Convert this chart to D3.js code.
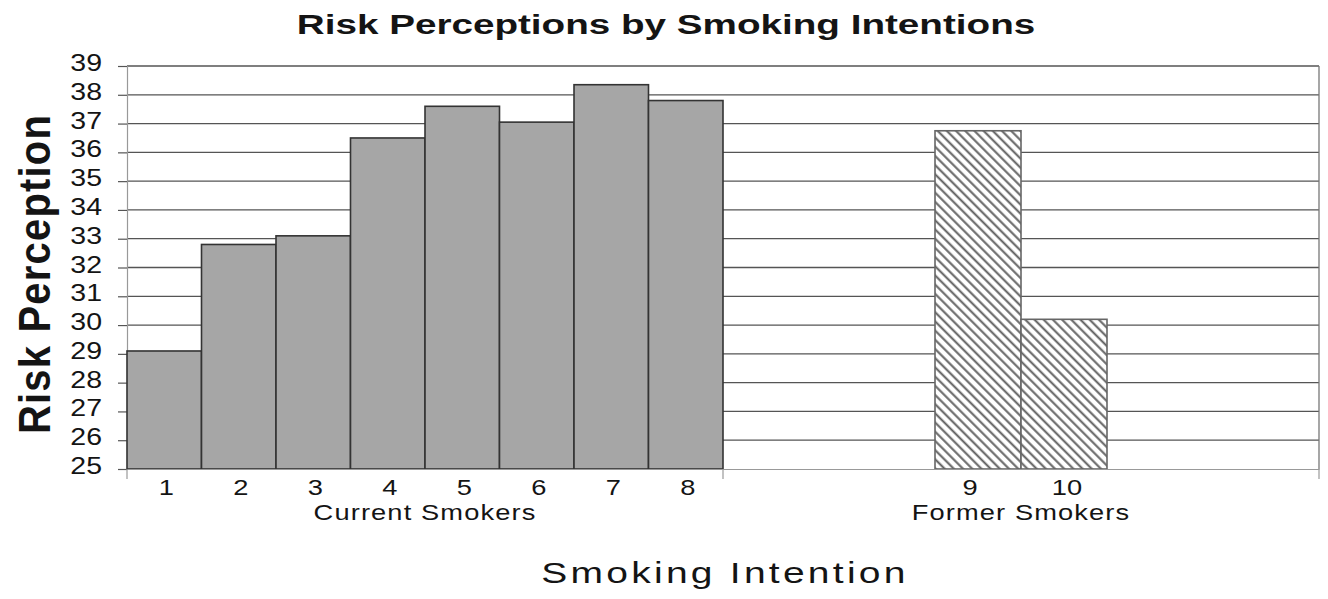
<!DOCTYPE html>
<html>
<head>
<meta charset="utf-8">
<script src="https://cdn.jsdelivr.net/npm/d3@7/dist/d3.min.js"></script>
<style>
  html, body { margin: 0; padding: 0; background: #fff; }
  svg { display: block; }
  text { font-family: "Liberation Sans", Arial, sans-serif; fill: #141414; }
</style>
</head>
<body>
<svg id="chart" width="1328" height="599"></svg>
<script>
// ---- data ----
const groups = ["Current Smokers", "Former Smokers"];
const currentLabels = ["1", "2", "3", "4", "5", "6", "7", "8"];
const currentValues = [29.1, 32.8, 33.1, 36.5, 37.6, 37.05, 38.35, 37.8];
const formerLabels = ["9", "10"];
const formerValues = [36.75, 30.2];
const yTicks = [25, 26, 27, 28, 29, 30, 31, 32, 33, 34, 35, 36, 37, 38, 39];
const title = "Risk Perceptions by Smoking Intentions";
const yTitle = "Risk Perception";
const xTitle = "Smoking Intention";

// ---- layout ----
const svg = d3.select("#chart");
const pLeft = 127, pRight = 1319, pTop = 66, pBottom = 469;
const SX = 1.24; // horizontal stretch of the original's lettering

function label(g, x, yy, str, size, anchor, opts = {}) {
  const sx = opts.sx || SX;
  const t = g.append("text")
    .attr("transform", `translate(${x},${yy}) scale(${sx},1)`)
    .attr("text-anchor", anchor).attr("font-size", size).text(str);
  if (opts.bold) t.attr("font-weight", "bold");
  if (opts.ls) t.attr("letter-spacing", opts.ls);
  return t;
}

const y = d3.scaleLinear().domain([25, 39]).range([pBottom, pTop]);
const xGroup = d3.scaleBand().domain(groups).range([pLeft, pRight]).padding(0);
const xCur = d3.scaleBand().domain(currentLabels)
  .range([xGroup("Current Smokers"), xGroup("Current Smokers") + xGroup.bandwidth()]).padding(0);
const fCenter = xGroup("Former Smokers") + xGroup.bandwidth() / 2;
const xFor = d3.scaleBand().domain(formerLabels)
  .range([fCenter - 86, fCenter + 86]).padding(0);

// hatch pattern
const defs = svg.append("defs");
const pat = defs.append("pattern").attr("id", "hatch")
  .attr("patternUnits", "userSpaceOnUse").attr("width", 6.5).attr("height", 6.5)
  .attr("patternTransform", "rotate(45)");
pat.append("rect").attr("width", 6.5).attr("height", 6.5).attr("fill", "#fff");
pat.append("line").attr("x1", 0).attr("y1", 1.5).attr("x2", 6.5).attr("y2", 1.5)
  .attr("stroke", "#5f5f5f").attr("stroke-width", 2);

// gridlines
svg.append("g").selectAll("line").data(yTicks.slice(1)).join("line")
  .attr("x1", pLeft).attr("x2", pRight)
  .attr("y1", d => y(d)).attr("y2", d => y(d))
  .attr("stroke", "#555").attr("stroke-width", 1.3);

// y axis
const yAxis = svg.append("g").attr("transform", `translate(${pLeft},0)`)
  .call(d3.axisLeft(y).tickValues(yTicks).tickSize(9).tickFormat(""));
yAxis.select(".domain").attr("stroke", "#999").attr("stroke-width", 1.2);
yAxis.selectAll(".tick line").attr("stroke", "#555").attr("stroke-width", 1.2);
const yl = svg.append("g");
yTicks.forEach(v => label(yl, 102, y(v) + 5, d3.format("d")(v), 23, "end"));

// right border
svg.append("line").attr("x1", pRight).attr("x2", pRight).attr("y1", pTop).attr("y2", pBottom)
  .attr("stroke", "#777").attr("stroke-width", 1.3);

// current smokers bars
svg.append("g").selectAll("rect").data(currentValues).join("rect")
  .attr("x", (d, i) => xCur(currentLabels[i]))
  .attr("width", xCur.bandwidth())
  .attr("y", d => y(d)).attr("height", d => y(25) - y(d))
  .attr("fill", "#a6a6a6").attr("stroke", "#333").attr("stroke-width", 1.6);

// former smokers bars
svg.append("g").selectAll("rect").data(formerValues).join("rect")
  .attr("x", (d, i) => xFor(formerLabels[i]))
  .attr("width", xFor.bandwidth())
  .attr("y", d => y(d)).attr("height", d => y(25) - y(d))
  .attr("fill", "url(#hatch)").attr("stroke", "#666").attr("stroke-width", 1.6);

// x axis
const xAxis = svg.append("g").attr("transform", `translate(0,${pBottom})`)
  .call(d3.axisBottom(xGroup).tickValues([]).tickSizeOuter(0));
xAxis.select(".domain").attr("stroke", "#999").attr("stroke-width", 1.2);
svg.append("g").selectAll("line").data([pLeft, xGroup("Former Smokers"), pRight]).join("line")
  .attr("x1", d => d).attr("x2", d => d).attr("y1", pBottom).attr("y2", pBottom + 10)
  .attr("stroke", "#999").attr("stroke-width", 1.2);

// category tick labels
const xl = svg.append("g");
currentLabels.forEach(d => label(xl, xCur(d) + xCur.bandwidth() / 2 + 2, 495, d, 22, "middle"));
formerLabels.forEach((d, i) => label(xl, xFor(d) + xFor.bandwidth() / 2 + (i === 0 ? -8 : 3), 495, d, 22, "middle"));

// group labels
groups.forEach(d => label(xl, xGroup(d) + xGroup.bandwidth() / 2, 520, d, 22, "middle", { ls: 0.9 }));

// titles
label(svg, 666, 34, title, 28, "middle", { bold: true, sx: 1.38 });
svg.append("text").attr("transform", "translate(50,274) scale(1.12,1) rotate(-90)")
  .attr("text-anchor", "middle").attr("font-size", 40).attr("font-weight", "bold")
  .attr("letter-spacing", 1.2).text(yTitle);
label(svg, 725, 583, xTitle, 30, "middle", { sx: 1.3, ls: 2.5 });
</script>
</body>
</html>
